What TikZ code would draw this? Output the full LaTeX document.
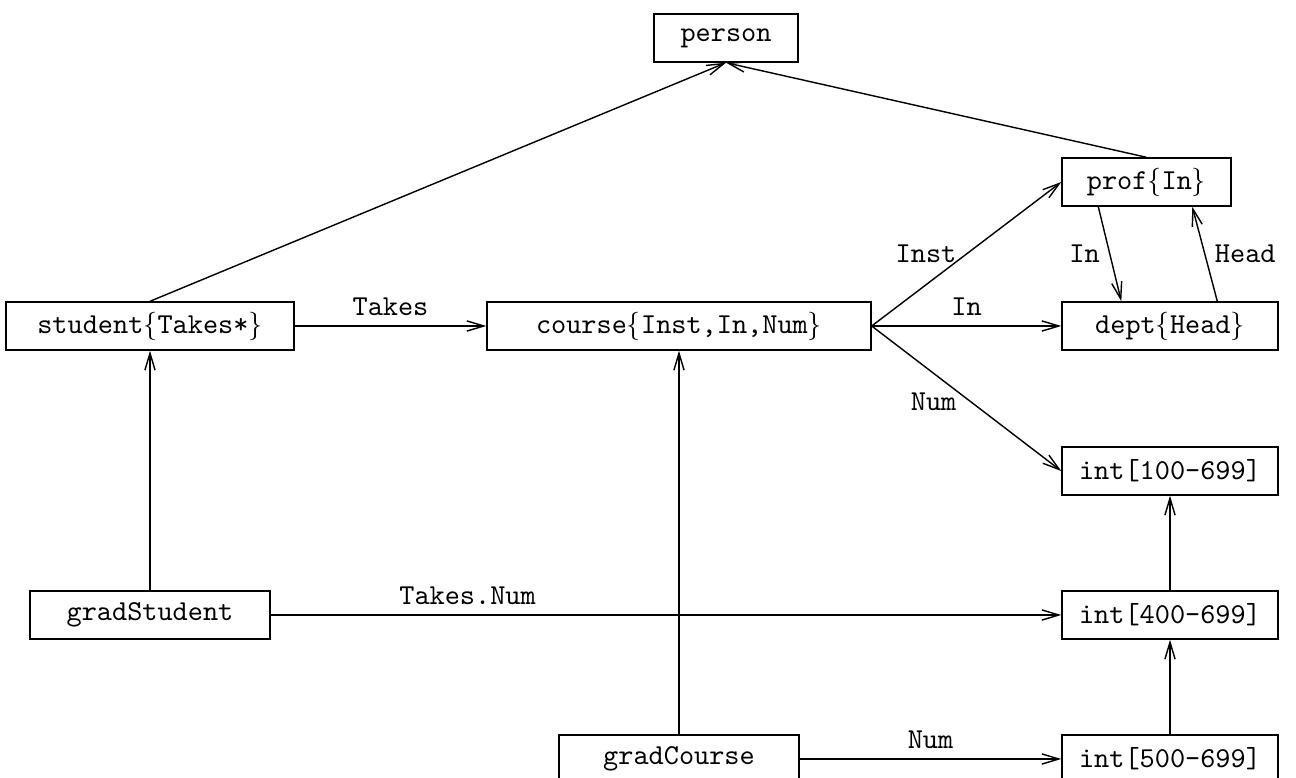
\documentclass[tikz,border=0pt]{standalone}
\usetikzlibrary{arrows.meta,calc}
\begin{document}
\begin{tikzpicture}[
  x=0.3533pt, y=-0.3533pt,
  line width=0.5pt,
  box/.style={draw, rectangle, inner sep=0pt, minimum height=16.96pt,
    font=\fontsize{10.2}{12}\ttfamily},
  link/.style={-{Straight Barb[length=6pt,width=3.6pt,line width=0.5pt]}},
  lbl/.style={font=\fontsize{10.2}{12}\ttfamily}
]
\useasboundingbox (0,0) rectangle (1296,778);

% type nodes
\node[box, minimum width=50.88pt]  (person)  at (726,38)  {person};
\node[box, minimum width=59.71pt]  (prof)    at (1146.5,182) {prof$\{$In$\}$};
\node[box, minimum width=76.31pt]  (dept)    at (1170,326) {dept$\{$Head$\}$};
\node[box, minimum width=101.75pt] (student) at (150,326)  {student$\{$Takes*$\}$};
\node[box, minimum width=135.67pt] (course)  at (679,326)  {course$\{$Inst,In,Num$\}$};
\node[box, minimum width=76.31pt]  (intA)    at (1170,471) {int[100-699]};
\node[box, minimum width=84.79pt]  (gstud)   at (150,615)  {gradStudent};
\node[box, minimum width=76.31pt]  (intB)    at (1170,615) {int[400-699]};
\node[box, minimum width=84.79pt]  (gcourse) at (679,759)  {gradCourse};
\node[box, minimum width=76.31pt]  (intC)    at (1170,759) {int[500-699]};

% subtype links
\draw[link] (student.north) -- (person.south);
\draw[link] (prof.north) -- (person.south);
\draw[link] (gstud.north) -- (student.south);
\draw[link] (gcourse.north) -- (course.south);
\draw[link] (intB.north) -- (intA.south);
\draw[link] (intC.north) -- (intB.south);

% attribute links
\draw[link] (student.east) -- node[lbl, above] {Takes} (course.west);
\draw[link] (course.east) -- node[lbl, left] {Inst} (prof.west);
\draw[link] (course.east) -- node[lbl, above] {In} (dept.west);
\draw[link] (course.east) -- node[lbl, left, yshift=-1pt] {Num} (intA.west);
\draw[link] ($(prof.south west)+(37,0)$) -- node[lbl, left] {In}
  ($(dept.north west)+(60,0)$);
\draw[link] ($(dept.north west)+(156,0)$) -- node[lbl, right] {Head}
  ($(prof.south west)+(131,0)$);
\draw[link] (gstud.east) -- node[lbl, above, pos=0.249] {Takes.Num} (intB.west);
\draw[link] (gcourse.east) -- node[lbl, above] {Num} (intC.west);
\end{tikzpicture}
\end{document}
